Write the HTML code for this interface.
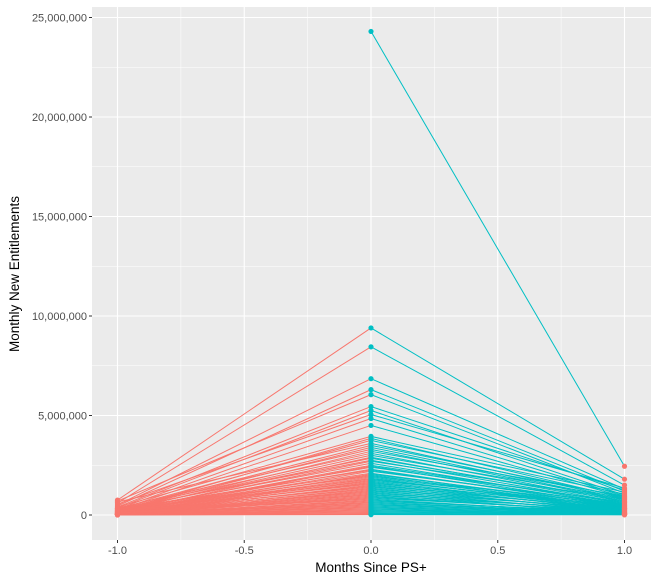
<!DOCTYPE html>
<html><head><meta charset="utf-8">
<style>
body{margin:0;background:#fff;}
svg text{font-family:"Liberation Sans",sans-serif;}
</style></head>
<body>
<svg id="chart" width="663" height="581" viewBox="0 0 663 581"></svg>
<script>
// data (millions) for each series: month -1, month 0, month 1 (null = missing)
const monthsX = [-1, 0, 1];
const xTicks = [-1.0, -0.5, 0.0, 0.5, 1.0];
const xTickLabels = ["-1.0", "-0.5", "0.0", "0.5", "1.0"];
const yTicks = [0, 5, 10, 15, 20, 25];
const yTickLabels = ["0", "5,000,000", "10,000,000", "15,000,000", "20,000,000", "25,000,000"];
const valsM0 = [24.3,9.4,8.45,6.85,6.3,6.05,5.45,5.25,5.05,4.85,4.5,3.95,3.85,3.75,3.6,3.5,3.4,3.3,3.2,3.1,3.0,2.9,2.85,2.75,2.7,2.6,2.5,2.45,2.4,2.3,2.25,2.2,2.1,2.05,2.0,1.95,1.9,1.85,1.8,1.75,1.7,1.65,1.6,1.55,1.5,1.45,1.4,1.35,1.3,1.25,1.2,1.15,1.1,1.05,1.0,0.95,0.9,0.85,0.8,0.75,0.7,0.65,0.6,0.55,0.5,0.45,0.4,0.35,0.3,0.25,0.2,0.15,0.1,0.05,0.02];
const valsMm1 = [null,0.75,0.6,0.5,0.45,0.7,0.4,0.35,0.55,0.3,0.25,0.4,0.2,0.3,0.65,0.25,0.2,0.35,0.15,0.3,0.2,0.1,0.25,0.3,0.15,0.2,0.1,0.05,0.2,0.15,0.3,0.1,0.2,0.05,0.15,0.25,0.1,0.05,0.2,0.1,0.15,0.05,0.1,0.2,0.05,0.1,0.15,0.05,0.1,0.02,0.05,0.1,0.05,0.02,0.1,0.05,0.02,0.05,0.1,0.02,0.05,0.02,0.05,0.02,0.05,0.02,0.01,0.05,0.02,0.01,0.02,0.01,0.02,0.01,0.0];
const valsM1 = [2.45,1.8,1.5,1.3,1.2,1.1,1.25,1.0,1.35,0.95,0.9,1.15,0.85,1.05,0.8,0.9,0.75,0.7,0.95,0.65,0.85,0.6,0.7,0.55,0.8,0.5,0.6,0.45,0.65,0.4,0.5,0.55,0.35,0.45,0.3,0.5,0.4,0.25,0.35,0.45,0.3,0.2,0.4,0.25,0.3,0.15,0.35,0.2,0.25,0.1,0.3,0.15,0.2,0.05,0.25,0.1,0.15,0.2,0.05,0.1,0.15,0.08,0.1,0.05,0.12,0.08,0.05,0.06,0.04,0.05,0.03,0.04,0.02,0.02,0.01];

const L=92,R=651,T=7,B=540;
const xs=v=>371+v*253.5;
const ys=v=>515-v*19.9;
const svg=document.getElementById('chart');
const NS='http://www.w3.org/2000/svg';
function mk(tag,attrs,parent){const e=document.createElementNS(NS,tag);for(const k in attrs)e.setAttribute(k,attrs[k]);(parent||svg).appendChild(e);return e;}

const panel=mk('rect',{x:L,y:T,width:R-L,height:B-T,fill:'#EBEBEB'});


for(let i=0;i<xTicks.length-1;i++){const x=xs((xTicks[i]+xTicks[i+1])/2);const g=mk('line',{x1:x,x2:x,y1:T,y2:B,stroke:'#fff','stroke-width':0.5});}
for(let i=0;i<yTicks.length-1;i++){const y=ys((yTicks[i]+yTicks[i+1])/2);const g=mk('line',{x1:L,x2:R,y1:y,y2:y,stroke:'#fff','stroke-width':0.5});}
xTicks.forEach((t,i)=>{const x=xs(t);
 const g=mk('line',{x1:x,x2:x,y1:T,y2:B,stroke:'#fff','stroke-width':1.1});
 const tk=mk('line',{x1:x,x2:x,y1:B,y2:B+3,stroke:'#333','stroke-width':1});
 const lb=mk('text',{x:x,y:B+14,'text-anchor':'middle','font-size':11,fill:'#4D4D4D'});lb.textContent=xTickLabels[i];});
yTicks.forEach((t,i)=>{const y=ys(t);
 const g=mk('line',{x1:L,x2:R,y1:y,y2:y,stroke:'#fff','stroke-width':1.1});
 const tk=mk('line',{x1:L-3,x2:L,y1:y,y2:y,stroke:'#333','stroke-width':1});
 const lb=mk('text',{x:L-5,y:y+4,'text-anchor':'end','font-size':11,fill:'#4D4D4D'});lb.textContent=yTickLabels[i];});

const RED='#F8766D',TEAL='#00BFC4';
for(let i=0;i<valsM0.length;i++){
 if(valsMm1[i]===null) continue;
 const l=mk('line',{x1:xs(monthsX[0]),y1:ys(valsMm1[i]),x2:xs(monthsX[1]),y2:ys(valsM0[i]),stroke:RED,'stroke-width':1});
 
 
}
for(let i=0;i<valsM0.length;i++){
 const l=mk('line',{x1:xs(monthsX[1]),y1:ys(valsM0[i]),x2:xs(monthsX[2]),y2:ys(valsM1[i]),stroke:TEAL,'stroke-width':1});
 
 
}
for(let i=0;i<valsM0.length;i++){
 if(valsMm1[i]!==null){
  const a=mk('circle',{cx:xs(monthsX[0]),cy:ys(valsMm1[i]),r:2.6,fill:RED});
  
  
 }
 const c=mk('circle',{cx:xs(monthsX[2]),cy:ys(valsM1[i]),r:2.6,fill:RED});
 
 
 const b=mk('circle',{cx:xs(monthsX[1]),cy:ys(valsM0[i]),r:2.6,fill:TEAL});
 
 
}
const xt=mk('text',{x:371,y:572,'text-anchor':'middle','font-size':13.5,fill:'#000'});xt.textContent='Months Since PS+';


const yt=mk('text',{x:0,y:0,'text-anchor':'middle','font-size':13.5,fill:'#000',transform:'translate(19,274) rotate(-90)'});yt.textContent='Monthly New Entitlements';


</script>
</body></html>
